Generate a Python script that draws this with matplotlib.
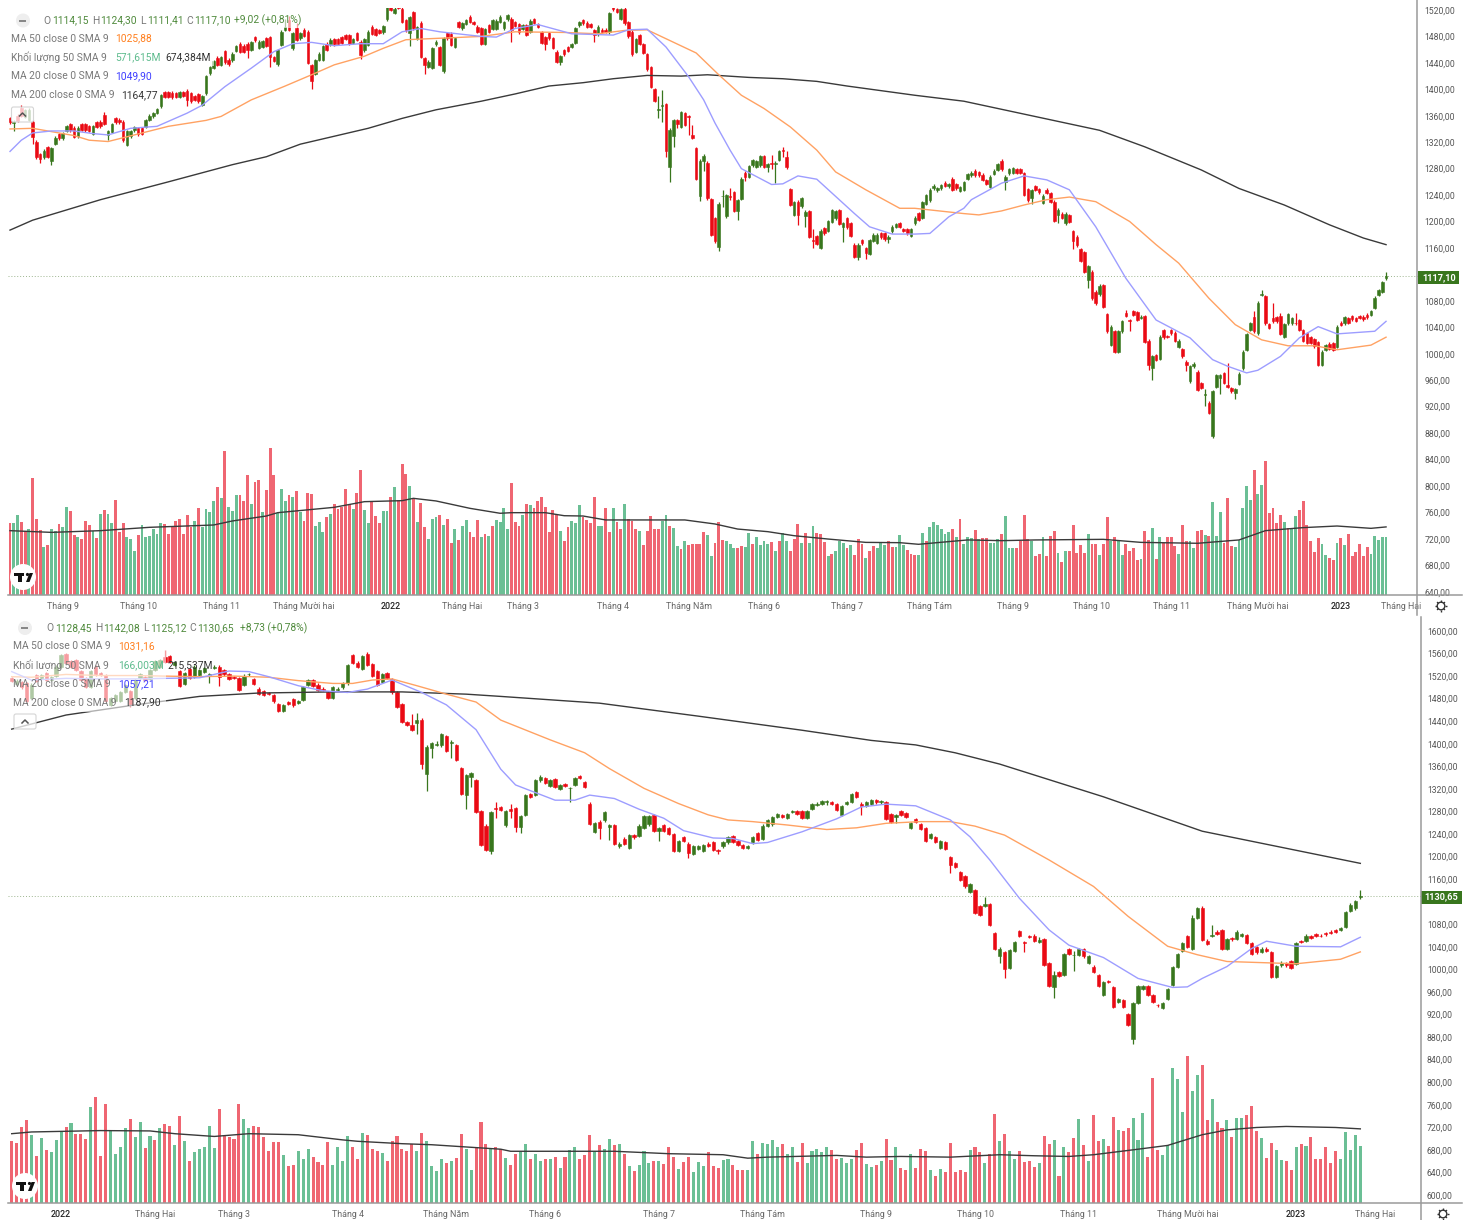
import numpy as np
import matplotlib
matplotlib.use("Agg")
import matplotlib.pyplot as plt
from matplotlib.patches import Rectangle, Circle, Polygon, FancyBboxPatch

plt.rcParams['font.family'] = ['Roboto', 'DejaVu Sans']

# ---------- upper chart ----------
top_open = [
1356,1349,1360,1372,1358,1354,1351,1321,1302,1297,
1312,1291,1318,1332,1326,1337,1347,1342,1329,1347,
1347,1344,1333,1350,1351,1361,1331,1336,1356,1354,
1351,1316,1329,1338,1341,1341,1343,1354,1359,1364,
1374,1396,1396,1395,1394,1389,1396,1398,1394,1390,
1393,1376,1394,1424,1432,1448,1437,1458,1445,1444,
1458,1469,1466,1469,1460,1479,1463,1464,1477,1479,
1449,1438,1467,1490,1505,1462,1492,1477,1490,1487,
1437,1423,1445,1445,1469,1468,1476,1476,1479,1482,
1482,1470,1485,1472,1459,1467,1495,1491,1489,1486,
1506,1530,1516,1533,1522,1505,1485,1517,1476,1500,
1447,1434,1432,1468,1464,1427,1485,1484,1464,1502,
1492,1499,1510,1502,1495,1492,1469,1497,1491,1491,
1502,1492,1506,1507,1502,1499,1491,1497,1487,1506,
1499,1486,1479,1485,1477,1457,1442,1459,1464,1464,
1470,1497,1505,1501,1499,1489,1483,1490,1490,1486,
1525,1521,1507,1522,1502,1487,1457,1482,1468,1453,
1434,1400,1368,1375,1378,1283,1329,1353,1343,1364,
1359,1331,1311,1238,1292,1289,1234,1205,1162,1238,
1208,1239,1244,1216,1234,1274,1268,1285,1283,1285,
1299,1283,1289,1287,1293,1308,1297,1249,1210,1230,
1223,1208,1216,1172,1178,1160,1190,1186,1200,1205,
1217,1191,1205,1197,1165,1147,1172,1160,1151,1171,
1168,1182,1182,1173,1185,1192,1198,1188,1188,1178,
1197,1213,1206,1227,1232,1250,1247,1250,1259,1253,
1265,1256,1246,1248,1265,1270,1277,1275,1271,1263,
1252,1272,1278,1291,1260,1273,1274,1279,1279,1273,
1249,1235,1253,1249,1228,1248,1243,1230,1210,1212,
1197,1210,1185,1177,1158,1154,1112,1124,1094,1090,
1104,1060,1013,1034,1003,1034,1062,1051,1064,1063,
1054,1057,1020,978,998,992,1036,1027,1036,1032,
1010,1007,988,958,981,973,955,938,926,875,
950,964,971,953,948,940,954,978,1006,1036,
1056,1031,1089,1087,1045,1054,1055,1057,1026,1046,
1046,1047,1051,1036,1031,1025,1022,1018,983,1006,
1015,1016,1010,1047,1046,1054,1057,1054,1057,1056,
1059,1059,1069,1089,1094,1114]
top_close = [
1350,1351,1352,1360,1368,1369,1328,1297,1294,1307,
1298,1311,1327,1326,1334,1344,1338,1328,1342,1339,
1338,1337,1344,1343,1344,1348,1337,1347,1350,1350,
1323,1337,1337,1343,1332,1333,1353,1360,1364,1370,
1391,1389,1389,1388,1389,1396,1390,1384,1382,1384,
1382,1390,1420,1434,1443,1437,1449,1441,1438,1454,
1465,1457,1457,1459,1471,1474,1472,1473,1466,1449,
1443,1459,1487,1495,1490,1485,1475,1485,1481,1440,
1412,1444,1454,1465,1460,1475,1468,1469,1470,1476,
1469,1476,1475,1452,1476,1487,1484,1482,1485,1496,
1525,1520,1522,1523,1502,1489,1509,1492,1494,1449,
1437,1442,1462,1472,1437,1477,1477,1467,1477,1494,
1500,1505,1502,1499,1487,1469,1491,1487,1505,1504,
1510,1502,1512,1490,1496,1486,1497,1482,1504,1501,
1495,1470,1469,1477,1463,1442,1450,1453,1458,1468,
1492,1502,1500,1495,1494,1482,1495,1487,1487,1515,
1521,1517,1521,1500,1480,1453,1476,1469,1455,1430,
1404,1383,1370,1377,1307,1339,1353,1348,1365,1346,
1358,1327,1265,1292,1299,1235,1180,1170,1227,1239,
1240,1237,1216,1232,1265,1267,1284,1293,1291,1299,
1283,1287,1287,1289,1306,1306,1282,1225,1229,1210,
1235,1215,1177,1170,1166,1186,1182,1201,1217,1216,
1196,1198,1191,1178,1147,1165,1167,1152,1172,1180,
1180,1176,1173,1177,1192,1196,1192,1186,1182,1188,
1206,1203,1229,1240,1248,1254,1250,1255,1254,1257,
1248,1250,1252,1260,1272,1274,1270,1270,1263,1257,
1268,1277,1287,1279,1268,1279,1281,1274,1274,1240,
1232,1247,1248,1244,1239,1243,1230,1201,1218,1206,
1212,1200,1171,1164,1141,1124,1132,1084,1076,1103,
1071,1034,1041,1003,1034,1049,1057,1049,1059,1051,
1056,1018,983,996,991,1026,1025,1026,1031,1020,
1020,996,983,981,985,945,948,939,911,943,
968,968,956,950,943,946,970,1003,1030,1046,
1034,1077,1091,1046,1039,1049,1049,1030,1045,1060,
1054,1046,1036,1020,1016,1016,1011,983,1003,1013,
1007,1006,1041,1044,1055,1047,1052,1050,1054,1052,
1055,1064,1085,1096,1108,1117]
top_wick_up = {3:5,25:4,73:12,74:6,76:8,109:3,172:20,173:22,181:15,184:3,189:9,191:12,
               202:12,205:5,206:10,213:16,263:3,296:4,317:7,323:33,330:8,332:6,335:22,
               337:5,341:15,365:7}
top_wick_dn = {1:12,6:10,8:6,11:6,26:8,47:10,63:11,69:15,80:12,93:6,106:20,110:14,133:18,
               142:9,146:5,155:10,172:12,173:25,174:9,175:23,176:16,177:6,180:27,183:7,
               184:16,188:7,189:16,191:4,193:14,195:6,201:8,202:8,203:29,205:8,209:15,
               211:17,213:10,221:22,225:5,227:9,233:5,264:13,271:8,278:12,282:13,286:13,
               297:15,302:8,303:17,312:9,317:17,321:25,325:8,365:3}
top_vol = [
-710,710,789,-726,-637,650,-1155,-756,-644,479,-495,650,637,-703,670,868,-835,-594,578,-554,
-733,-690,637,-564,802,-842,802,716,-941,-627,-710,578,558,439,-594,693,571,584,650,604,
710,-703,-604,-670,-733,-756,-604,-795,-670,733,-858,670,848,822,927,-1073,957,-1422,875,835,
990,-990,-934,-1185,898,-1119,-1139,822,-1040,-1455,-1185,815,1049,934,-990,967,-1026,825,-736,-1013,
-1000,683,726,627,-776,802,-901,-855,-875,-1046,-891,851,-1013,-1238,842,710,-927,-782,-716,832,
828,-967,1066,-941,-1297,-1198,1079,-964,726,-908,-677,558,749,769,-789,693,-756,-512,657,-545,
683,743,-624,-571,-743,571,-604,584,-683,745,
726,865,657,-1112,-723,-686,789,-898,891,-858,-927,-967,-871,-624,-842,-802,630,-538,-670,733,
716,888,-776,-743,-716,-974,683,683,-865,-624,865,-726,-653,898,-756,-736,-650,630,-492,-634,-779,
-657,-650,736,789,-686,663,485,-455,531,-492,-508,-508,-508,-624,594,383,-515,-726,-548,538,508,
462,-462,-485,479,611,-508,571,495,538,502,-525,432,-538,611,538,-439,-554,-700,515,-614,
515,680,-617,-601,-525,386,-406,432,531,515,-469,492,-399,-554,-508,363,-439,-485,469,515,
492,-538,-479,479,594,498,-446,-406,-393,393,614,-531,677,726,693,650,607,624,-650,578,
-756,508,578,561,-640,554,-561,-561,515,515,554,-607,
782,469,462,-462,-535,-789,-554,538,-389,-406,571,-386,-581,-634,413,-330,439,-439,-690,-413,
-495,-413,607,-502,-508,399,-502,-776,538,-578,531,399,-502,-436,-462,-347,356,-630,-541,660,
-353,571,-518,-578,-571,-485,406,-693,-531,538,462,-630,-640,594,-584,917,584,818,-518,-957,
-485,479,541,858,1082,941,-1238,1000,1089,-1330,-815,-858,-716,-792,723,-660,660,779,-842,-934,
-693,-531,-422,-561,502,393,-370,-347,518,-561,492,-607,-386,-422,-508,-386,-479,406,584,545,
571,571]
top_ma20_x = [0,3,6,11,17,22,26,32,39,47,51,57,64,70,75,80,86,93,99,104,109,114,125,129,134,140,149,160,164,169,
              174,180,184,187,191,194,202,205,209,214,219,224,228,234,240,244,249,253,255,263,269,275,281,288,296,
              304,313,319,323,328,331,337,342,347,352,362,365]
top_ma20_y = [1306,1323,1334,1337,1337,1333,1331,1341,1344,1364,1376,1404,1432,1457,1469,1471,1466,1469,1469,1487,1492,1487,1480,1479,1492,1498,1484,1482,1490,1491,
              1464,1419,1384,1349,1308,1280,1256,1257,1269,1264,1238,1212,1192,1181,1181,1182,1207,1220,1233,1258,1269,1263,1248,1192,1114,
              1051,1024,991,981,971,975,996,1024,1041,1030,1034,1049]
top_ma50_x = [0,6,11,17,21,26,33,42,52,56,64,73,80,86,94,99,105,113,125,134,147,156,163,169,182,188,194,200,207,214,
              219,227,236,240,253,257,263,269,275,281,288,297,304,310,318,325,332,339,346,352,361,365]
top_ma50_y = [1340,1341,1336,1330,1323,1321,1331,1344,1353,1359,1384,1405,1422,1437,1450,1462,1475,1477,1480,1487,1486,1484,1489,1490,1455,1422,1391,1371,1343,1308,
              1275,1248,1220,1220,1212,1210,1216,1225,1233,1237,1230,1200,1165,1137,1084,1044,1021,1012,1012,1006,1013,1025]
top_ma200_x = [0,6,24,42,59,68,77,86,95,104,113,125,134,143,152,160,169,178,185,196,205,214,222,231,240,253,289,301,316,326,338,350,359,365]
top_ma200_y = [1187,1202,1233,1260,1286,1298,1317,1329,1341,1356,1369,1382,1393,1405,1410,1416,1421,1420,1422,1418,1416,1412,1405,1398,1391,1382,1338,1313,1278,1250,1225,1195,1175,1165]
top_vma_x = [0,11,24,37,54,59,68,71,86,94,104,107,113,122,130,133,142,147,152,158,168,179,187,193,201,208,217,227,236,241,254,263,272,290,300,315,326,333,343,352,361,365]
top_vma_y = [637,620,637,670,693,733,782,815,868,924,934,957,931,858,809,815,815,785,782,743,743,743,703,653,627,587,554,521,518,502,545,538,545,551,521,512,545,637,667,683,660,674]
top_months = [14,34,56,78,101,120,136,160,180,200,222,244,266,287,308,331,353,369]
top_month_labels = ['Tháng 9','Tháng 10','Tháng 11','Tháng Mười hai','2022','Tháng Hai','Tháng 3','Tháng 4',
                    'Tháng Năm','Tháng 6','Tháng 7','Tháng Tám','Tháng 9','Tháng 10','Tháng 11','Tháng Mười hai','2023','Tháng Hai']
top_price_ticks = [p for p in range(640, 1521, 40) if p != 1120]
top_last = 1117.10

# ---------- lower chart ----------
bot_open = [
1517,1506,1510,1507,1482,1522,1516,1525,1513,1521,
1537,1559,1546,1549,1529,1516,1501,1537,1525,1522,
1469,1476,1476,1492,1494,1481,1516,1519,1515,1531,
1537,1553,1555,1540,1529,1506,1533,1519,1522,1528,
1522,1534,1537,1531,1523,1519,1516,1504,1523,1515,
1498,1494,1490,1487,1470,1458,1474,1479,1472,1478,
1504,1513,1505,1498,1491,1482,1495,1500,1507,1558,
1544,1533,1560,1541,1529,1509,1525,1515,1491,1470,
1439,1433,1436,1443,1346,1392,1398,1397,1413,1402,
1398,1357,1309,1342,1336,1280,1255,1210,1287,1288,
1256,1284,1286,1252,1274,1311,1309,1335,1340,1326,
1337,1320,1328,1321,1327,1343,1332,1294,1244,1262,
1264,1252,1256,1218,1232,1216,1238,1236,1251,1257,
1274,1246,1256,1251,1240,1210,1234,1223,1205,1214,
1210,1223,1225,1212,1218,1225,1237,1228,1221,1215,
1225,1241,1232,1254,1257,1271,1274,1268,1279,1280,
1281,1268,1284,1292,1294,1297,1297,1293,1274,1294,
1297,1314,1294,1290,1293,1300,1296,1296,1275,1271,
1281,1277,1251,1267,1258,1250,1233,1234,1215,1226,
1199,1189,1173,1166,1138,1141,1112,1113,1116,1064,
1023,1030,1002,1033,1068,1049,1059,1060,1049,1053,
1011,969,995,990,1036,1025,1025,1036,1011,1005,
990,955,979,968,943,945,921,876,940,965,
971,955,937,931,947,972,1005,1033,1059,1036,
1092,1108,1051,1059,1067,1070,1036,1055,1054,1059,
1061,1046,1039,1031,1037,1031,986,1007,1011,1015,
1010,1050,1050,1059,1063,1060,1064,1067,1070,1070,
1075,1104,1108,1128]
bot_close = [
1511,1512,1500,1476,1505,1512,1522,1513,1519,1537,
1557,1543,1537,1531,1513,1501,1529,1523,1522,1476,
1481,1486,1491,1504,1468,1513,1523,1513,1531,1546,
1549,1545,1545,1545,1503,1525,1517,1537,1531,1534,
1523,1537,1519,1523,1515,1517,1495,1521,1524,1506,
1489,1487,1488,1475,1458,1469,1470,1468,1475,1501,
1513,1503,1495,1496,1482,1500,1498,1507,1540,1544,
1537,1556,1540,1521,1505,1523,1516,1491,1466,1438,
1433,1424,1442,1364,1395,1401,1399,1417,1387,1404,
1371,1311,1344,1348,1279,1221,1212,1279,1284,1282,
1281,1281,1252,1272,1309,1306,1335,1342,1331,1335,
1324,1327,1326,1322,1340,1340,1324,1258,1259,1250,
1279,1256,1223,1223,1223,1238,1234,1255,1272,1272,
1246,1251,1245,1240,1210,1227,1228,1206,1218,1218,
1221,1219,1212,1210,1225,1234,1226,1221,1216,1218,
1234,1229,1255,1265,1270,1275,1270,1275,1281,1275,
1268,1281,1293,1294,1299,1298,1294,1283,1290,1296,
1311,1305,1290,1297,1300,1296,1298,1267,1262,1274,
1274,1270,1260,1261,1249,1228,1240,1226,1228,1213,
1185,1181,1158,1147,1151,1100,1096,1116,1079,1037,
1037,1000,1034,1049,1059,1046,1057,1051,1052,1008,
971,990,989,1027,1027,1025,1036,1023,1023,996,
971,978,977,934,947,934,901,940,971,971,
955,943,936,940,965,1004,1027,1047,1040,1091,
1108,1052,1045,1061,1063,1036,1054,1053,1067,1063,
1047,1027,1030,1037,1033,986,1006,1012,1007,1003,
1046,1049,1060,1055,1059,1059,1062,1064,1067,1074,
1102,1115,1121,1130]
bot_wick_up = {31:14,81:19,82:12,86:6,98:10,101:10,197:12,243:18,208:6,211:8,215:8,239:6,241:4,273:11}
bot_wick_dn = {40:15,42:17,84:30,85:18,83:8,82:18,89:28,92:24,93:18,97:6,98:15,100:3,101:12,102:8,103:10,
               113:24,119:19,121:23,131:19,137:8,143:6,165:6,172:17,179:11,190:14,200:12,201:15,205:15,
               211:20,215:27,227:8,273:3}
bot_vol = [
-179,-174,-220,-240,197,-136,188,-154,147,183,206,-220,232,-199,-199,-186,279,-306,-136,-288,
212,143,163,217,-243,191,235,-159,195,-183,217,-229,-224,168,-252,181,-123,147,156,163,
222,159,-272,-195,-192,-186,-288,243,217,-222,-220,-190,-150,-177,-177,138,-108,-111,150,127,
156,-134,-118,-111,-177,111,163,123,195,-161,-127,202,-197,-156,-152,145,-121,-181,-193,-156,
-150,-170,152,-202,181,108,94,129,-116,123,-131,-200,156,96,-163,-235,-172,160,-161,-158,
131,-111,-141,148,172,-129,141,123,-129,129,-134,102,-134,154,163,-127,-139,-198,148,-168,
156,186,-168,172,-143,107,-94,111,152,116,-121,121,-114,-163,-132,99,-118,-132,91,118,
108,-148,-106,-102,125,129,-109,-96,-96,96,179,-143,175,172,183,163,-172,143,161,-118,
-175,116,150,156,148,163,-154,-129,131,116,129,-154,-175,114,104,-111,123,-186,-125,161,
-102,-96,143,-102,-156,-152,96,-79,99,-91,-175,-89,-96,-91,154,-161,-148,116,-143,-259,179,
-200,152,129,-150,-118,-123,-104,116,-193,-170,183,-79,161,-148,-188,243,-168,123,-254,-179,
186,-166,-249,212,-210,-217,247,183,261,-134,-363,-154,138,168,392,360,263,-427,326,370,
-400,-240,302,-235,-217,240,-192,247,247,-256,-282,-210,188,-131,-175,154,124,-123,-96,161,
-172,166,-192,-127,-127,-161,-116,-150,127,207,154,197,166]
bot_ma20_x = [0,4,11,18,25,31,38,44,48,52,58,63,68,72,77,83,88,94,99,102,110,114,117,122,127,132,136,142,146,150,153,160,167,172,177,183,190,194,198,204,210,214,221,228,235,238,241,246,251,254,260,269,273]
bot_ma20_y = [1528,1513,1516,1515,1515,1516,1517,1529,1528,1519,1503,1494,1491,1497,1513,1491,1469,1425,1355,1327,1300,1300,1309,1303,1284,1268,1246,1233,1232,1223,1225,1244,1267,1288,1293,1290,1265,1235,1194,1126,1070,1043,1021,984,968,969,984,1005,1037,1050,1041,1040,1057]
bot_ma50_x = [0,4,11,18,25,31,38,45,52,58,65,69,73,77,82,88,94,99,109,116,121,128,135,141,145,150,157,165,171,177,184,190,195,201,210,219,226,234,240,246,253,260,269,273]
bot_ma50_y = [1519,1518,1523,1521,1521,1520,1519,1520,1518,1512,1507,1507,1513,1515,1503,1488,1474,1442,1407,1384,1356,1321,1294,1274,1265,1262,1256,1248,1251,1259,1262,1262,1254,1238,1194,1147,1094,1041,1026,1014,1012,1010,1018,1031]
bot_ma200_x = [0,11,25,38,50,65,79,92,99,119,139,160,174,183,191,200,221,241,273]
bot_ma200_y = [1426,1451,1469,1484,1490,1492,1492,1488,1484,1472,1449,1424,1406,1398,1384,1364,1306,1245,1188]
bot_vma_x = [0,4,18,28,33,41,48,58,67,70,79,85,99,101,112,122,133,144,149,153,167,173,180,190,200,207,214,219,228,234,241,246,252,258,268,273]
bot_vma_y = [201,206,210,209,201,193,201,198,183,179,172,169,156,150,150,150,143,140,130,133,138,133,135,133,140,137,135,140,156,167,198,212,219,222,219,215]
bot_months = [10,29,45,68,88,108,131,152,175,195,216,238,260,276]
bot_month_labels = ['2022','Tháng Hai','Tháng 3','Tháng 4','Tháng Năm','Tháng 6','Tháng 7','Tháng Tám',
                    'Tháng 9','Tháng 10','Tháng 11','Tháng Mười hai','2023','Tháng Hai']
bot_price_ticks = [p for p in range(600, 1601, 40) if p != 1120]
bot_last = 1130.65

GREEN, RED = '#38761d', '#ea0a14'
VGREEN, VRED = '#6bbf95', '#ef6672'
BLUE, ORANGE, BLACK = '#9d9dff', '#ffa263', '#3a3a3a'
AXIS = '#9a9a9a'
W, H = 1474, 1220

fig = plt.figure(figsize=(W / 100, H / 100), dpi=100, facecolor='white')


def panel(left, right, ytop, ybot, x0, dx, ylim, vscale, opens, closes, wup, wdn, vol, mas, vma,
          months, labels, pticks, last, body_w, vol_w, ypad):
    ax = fig.add_axes([left / W, 1 - ybot / H, (right - left) / W, (ybot - ytop) / H])
    ax.set_xlim((left - x0) / dx, (right - x0) / dx)
    ax.set_ylim(*ylim)
    n = min(len(opens), len(closes))
    o = np.array(opens[:n], float)
    c = np.array(closes[:n], float)
    x = np.arange(n)
    hi = np.maximum(o, c) + np.array([wup.get(i, 2) for i in range(n)])
    lo = np.minimum(o, c) - np.array([wdn.get(i, 2) for i in range(n)])
    cols = [GREEN if c[i] >= o[i] else RED for i in range(n)]
    ax.vlines(x, lo, hi, colors=cols, lw=0.9, zorder=3)
    ax.bar(x, np.abs(c - o), bottom=np.minimum(o, c), width=body_w, color=cols,
           edgecolor=cols, linewidth=0.4, zorder=4)
    for mx, my, col, lw in mas:
        ax.plot(mx, my, color=col, lw=lw, zorder=5)
    ax.axhline(last, color='#9db58f', lw=0.7, ls=(0, (1, 2)), zorder=2)

    vax = ax.twinx()
    vax.set_ylim(0, (ybot - ytop) * vscale)
    v = np.array(vol, float)
    vx = np.arange(len(v))
    vax.bar(vx, np.abs(v), width=vol_w, color=[VGREEN if a > 0 else VRED for a in v], linewidth=0, zorder=2)
    vax.plot(vma[0], vma[1], color=BLACK, lw=1.0, zorder=3)
    vax.set_yticks([])
    for s in vax.spines.values():
        s.set_visible(False)
    ax.set_zorder(vax.get_zorder() + 1)
    ax.patch.set_visible(False)

    for s in ax.spines.values():
        s.set_visible(False)
    ax.yaxis.tick_right()
    ax.set_yticks(pticks)
    ax.set_yticklabels([f'{t},00' for t in pticks], fontsize=6.2, color='#555555')
    ax.tick_params(axis='y', length=0, pad=ypad)
    ax.set_xticks(months)
    ax.set_xticklabels(labels, fontsize=6.4, color='#666666')
    ax.tick_params(axis='x', length=0, pad=5)
    for t in ax.get_xticklabels():
        if t.get_text().startswith('20'):
            t.set_color('#222222')
            t.set_fontweight('medium')
    return ax


panel(8, 1417.5, 8, 595, 10, 3.77, (635, 1523), 9.9,
      top_open, top_close, top_wick_up, top_wick_dn, top_vol,
      [(top_ma200_x, top_ma200_y, BLACK, 1.0), (top_ma50_x, top_ma50_y, ORANGE, 1.0), (top_ma20_x, top_ma20_y, BLUE, 1.0)],
      (top_vma_x, top_vma_y), top_months, top_month_labels, top_price_ticks, top_last, 0.68, 0.76, 5)
panel(8, 1420.7, 617, 1203, 11.7, 4.94, (585.8, 1624.8), 2.9,
      bot_open, bot_close, bot_wick_up, bot_wick_dn, bot_vol,
      [(bot_ma200_x, bot_ma200_y, BLACK, 1.0), (bot_ma50_x, bot_ma50_y, ORANGE, 1.0), (bot_ma20_x, bot_ma20_y, BLUE, 1.0)],
      (bot_vma_x, bot_vma_y), bot_months, bot_month_labels, bot_price_ticks, bot_last, 0.68, 0.62, 4.5)

# ---------- overlay for the screen furniture, in pixels ----------
ov = fig.add_axes([0, 0, 1, 1], zorder=20)
ov.set_xlim(0, W)
ov.set_ylim(H, 0)
ov.axis('off')

ov.plot([8, 1462], [595, 595], color=AXIS, lw=1.1)
ov.plot([1417.5, 1417.5], [0, 615], color=AXIS, lw=1.1)
ov.plot([8, 1462], [1203, 1203], color=AXIS, lw=1.1)
ov.plot([1420.7, 1420.7], [617, 1220], color=AXIS, lw=1.1)

for (bx, by, bw, bh) in [(38, 13, 270, 15), (8, 31, 112, 16), (8, 50, 206, 16), (8, 69, 150, 34), (8, 637, 158, 75)]:
    ov.add_patch(Rectangle((bx, by), bw, bh, fc='white', ec='none', alpha=0.6))


def tag(xl, xr, y, txt):
    ov.add_patch(Rectangle((xl, y - 6.5), xr - xl, 13, fc=GREEN, ec='none'))
    ov.text((xl + xr) / 2, y, txt, color='white', fontsize=6.6, fontweight='bold', ha='center', va='center')


tag(1418, 1459.5, 277.5, '1117,10')
tag(1421, 1462, 897, '1130,65')

GRAY, VAL = '#787878', '#4f8a3c'
FS = 7.4


def legend(dx, ys, y0, ohlc, change, mid):
    ov.add_patch(Circle((23 + dx, y0), 7, fc='#eeeeee', ec='none'))
    ov.add_patch(Rectangle((19.5 + dx, y0 - 1), 7, 2, fc='#888888', ec='none'))
    pos = [(43, 52), (92, 100), (140, 147), (186, 194)]
    for (lx, vx), letter, val in zip(pos, 'OHLC', ohlc):
        ov.text(lx + dx * 1.5, y0, letter, color=GRAY, fontsize=FS, va='center')
        ov.text(vx + dx * 1.5, y0, val, color=VAL, fontsize=FS, va='center')
    ov.text(234 + dx * 3, y0, change, color=VAL, fontsize=FS, va='center')
    for yy, (name, vals) in zip(ys, mid):
        ov.text(11 + dx, yy, name, color=GRAY, fontsize=FS, va='center')
        for vx, vv, vc in vals:
            ov.text(vx + dx, yy, vv, color=vc, fontsize=FS, va='center')


legend(0, [38.5, 57, 76, 95], 20.5, ['1114,15', '1124,30', '1111,41', '1117,10'], '+9,02 (+0,81%)', [
    ('MA 50 close 0 SMA 9', [(115.5, '1025,88', '#ff7f1e')]),
    ('Khối lượng 50 SMA 9', [(115, '571,615M', '#5dbb8d'), (165, '674,384M', '#333333')]),
    ('MA 20 close 0 SMA 9', [(115.5, '1049,90', '#3d3dff')]),
    ('MA 200 close 0 SMA 9', [(121, '1164,77', '#333333')]),
])
legend(2, [646, 665, 684, 702.5], 628, ['1128,45', '1142,08', '1125,12', '1130,65'], '+8,73 (+0,78%)', [
    ('MA 50 close 0 SMA 9', [(116, '1031,16', '#ff7f1e')]),
    ('Khối lượng 50 SMA 9', [(116, '166,003M', '#5dbb8d'), (166, '215,537M', '#333333')]),
    ('MA 20 close 0 SMA 9', [(116, '1057,21', '#3d3dff')]),
    ('MA 200 close 0 SMA 9', [(122, '1187,90', '#333333')]),
])

for bx, by in [(11.5, 107), (14, 714)]:
    ov.add_patch(FancyBboxPatch((bx, by), 22, 15, boxstyle='round,pad=0,rounding_size=2',
                                fc=(1, 1, 1, 0.75), ec='#d5d5d5', lw=0.8))
    ov.plot([bx + 8, bx + 11, bx + 14], [by + 9, by + 6, by + 9], color='#555555', lw=1.1)

for cx, cy in [(23, 577), (25, 1186)]:
    ov.add_patch(Circle((cx, cy), 13, fc='white', ec='none'))
    ov.add_patch(Rectangle((cx - 9, cy - 4), 10.5, 3, fc='#111111', ec='none'))
    ov.add_patch(Rectangle((cx - 4.5, cy - 4), 3.5, 9, fc='#111111', ec='none'))
    ov.add_patch(Circle((cx + 4.5, cy - 2.5), 1.6, fc='#111111', ec='none'))
    ov.add_patch(Polygon([(cx + 3, cy + 5), (cx + 6.5, cy + 5), (cx + 10, cy - 4), (cx + 6.5, cy - 4)],
                         closed=True, fc='#111111', ec='none'))

# settings gear icons drawn as marks
for gx, gy in [(1441, 606), (1443, 1214)]:
    ov.add_patch(Circle((gx, gy), 3.8, fc='white', ec='#333333', lw=1.0))
    for a in np.arange(0, 2 * np.pi, np.pi / 4):
        ov.plot([gx + 3.8 * np.cos(a), gx + 5.6 * np.cos(a)], [gy + 3.8 * np.sin(a), gy + 5.6 * np.sin(a)],
                color='#333333', lw=1.0, solid_capstyle='butt')

fig.savefig('out.png', dpi=100, facecolor='white')
